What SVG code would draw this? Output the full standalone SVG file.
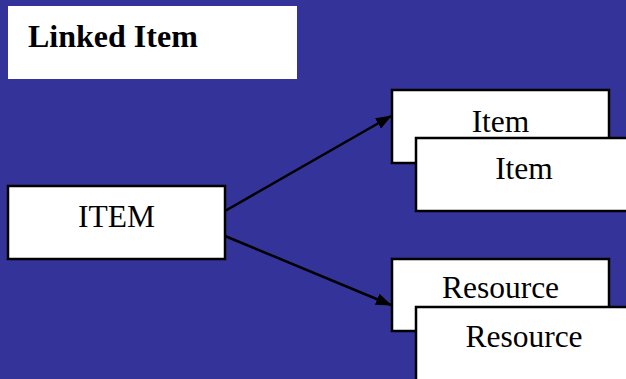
<svg xmlns="http://www.w3.org/2000/svg" width="626" height="379" viewBox="0 0 626 379">
<style>
.box{fill:#fff;stroke:#000;stroke-width:2.5}
.t{font-family:"Liberation Serif","Times New Roman",serif;font-size:31.5px;fill:#000;text-anchor:middle}
.title{font-family:"Liberation Serif","Times New Roman",serif;font-size:32px;font-weight:bold;fill:#000}
.conn{stroke:#000;stroke-width:2.5;fill:none}
</style>
<defs>
<marker id="ah" markerWidth="16" markerHeight="12" refX="15" refY="6" orient="auto" markerUnits="userSpaceOnUse">
<path d="M0,0 L16,6 L0,12 Z" fill="#000"/>
</marker>
</defs>
<rect width="626" height="379" fill="#333399"/>
<g id="title">
<rect x="8" y="6" width="289" height="73" fill="#fff"/>
<text class="title" x="28" y="47">Linked Item</text>
</g>
<g id="item-main">
<rect class="box" x="8" y="186" width="217" height="73"/>
<text class="t" x="116.5" y="227">ITEM</text>
</g>
<g id="item-back">
<rect class="box" x="392" y="90" width="217" height="73"/>
<text class="t" x="500.5" y="132">Item</text>
</g>
<g id="item-front">
<rect class="box" x="416" y="138" width="220" height="73"/>
<text class="t" x="524" y="179">Item</text>
</g>
<g id="resource-back">
<rect class="box" x="392" y="259" width="217" height="72"/>
<text class="t" x="500.5" y="298">Resource</text>
</g>
<g id="resource-front">
<rect class="box" x="416" y="307" width="220" height="80"/>
<text class="t" x="524" y="347">Resource</text>
</g>
<g id="connectors">
<line class="conn" x1="225" y1="211" x2="391" y2="116" marker-end="url(#ah)"/>
<line class="conn" x1="225" y1="236" x2="391" y2="305" marker-end="url(#ah)"/>
</g>
</svg>
